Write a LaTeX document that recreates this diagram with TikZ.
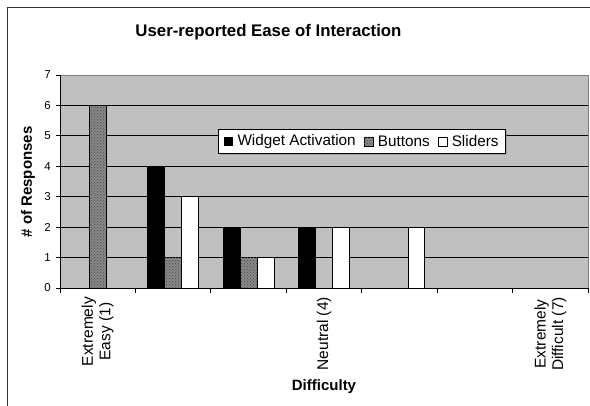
\documentclass[tikz,border=0pt]{standalone}
\usepackage{fontspec}
\setmainfont{Liberation Sans}
\usetikzlibrary{positioning, patterns, shadows}

\definecolor{plotgray}{RGB}{192,192,192}
\definecolor{edgegray}{RGB}{128,128,128}
\definecolor{hatchgray}{RGB}{135,135,135}

\tikzset{
  widget/.style={draw=black, line width=0.7pt, fill=black},
  buttons/.style={draw=black, line width=0.7pt, fill=hatchgray,
    postaction={pattern=crosshatch dots, pattern color=black!70}},
  sliders/.style={draw=black, line width=0.7pt, fill=white},
  grid line/.style={draw=black, line width=0.8pt},
  ticklabel/.style={anchor=east, inner sep=0pt, font=\fontsize{11.5}{13}\selectfont},
  catlabel/.style={rotate=90, anchor=east, inner sep=0pt, align=center,
    font=\fontsize{15.5}{17.5}\selectfont},
  legendbox/.style={draw=black, fill=white, line width=0.8pt,
    minimum width=287pt, minimum height=24pt, inner sep=0pt,
    drop shadow={shadow xshift=1.2pt, shadow yshift=-1.2pt, fill=black!45}},
  legendmark/.style={minimum size=9pt, inner sep=0pt},
  legendtext/.style={inner sep=0pt, font=\fontsize{15.3}{17}\selectfont}
}

\begin{document}
\begin{tikzpicture}[x=1pt, y=1pt]
  \useasboundingbox (0,0) rectangle (590,406);
  \clip (0,0) rectangle (590,406);
  \draw[line width=1.5pt, black!80] (7.5,398.5) rectangle (600,-10);

  \node[font=\bfseries\fontsize{16.8}{20}\selectfont] (title) at (268.5,374) {User-reported Ease of Interaction};

  \begin{scope}[shift={(60,118)}, x=75.43pt, y=30.43pt]
    \fill[plotgray] (0,0) rectangle (7,7);
    \foreach \k in {1,...,6}
      \draw[grid line] (0,\k) -- (7,\k);
    \draw[edgegray, line width=0.9pt] (0,7) -- (7,7) -- (7,0);
    \draw[black, line width=0.9pt] (0,7) -- (0,0) -- (7,0);
    \foreach \k in {0,...,7} {
      \draw[black, line width=0.8pt] (0,\k) -- ++(-4pt,0);
      \node[ticklabel] (y\k) at ([xshift=-9pt]0,\k) {\k};
    }
    \foreach \c in {0,...,7}
      \draw[black, line width=0.8pt] (\c,0) -- ++(0,-5pt);

    \foreach \c/\v in {2/4, 3/2, 4/2}
      \draw[widget] (\c-1+0.1644,0) rectangle ++(0.224,\v);
    \foreach \c/\v in {1/6, 2/1, 3/1}
      \draw[buttons] (\c-1+0.3884,0) rectangle ++(0.224,\v);
    \foreach \c/\v in {2/3, 3/1, 4/2, 5/2}
      \draw[sliders] (\c-1+0.6124,0) rectangle ++(0.224,\v);

    \node[catlabel] (easy) at ([yshift=-9pt]0.5,0) {Extremely\\Easy (1)};
    \node[catlabel] (neutral) at ([yshift=-9pt]3.5,0) {Neutral (4)};
    \node[catlabel] (difficult) at ([yshift=-9pt]6.5,0) {Extremely\\Difficult (7)};
  \end{scope}

  \node[font=\bfseries\fontsize{15}{18}\selectfont, rotate=90] (ylabel) at (28,224) {\# of Responses};
  \node[font=\bfseries\fontsize{15}{18}\selectfont] (xlabel) at (324,19) {Difficulty};

  \node[legendbox] (legend) at (361.8,264.6) {};
  \node[legendmark, fill=black, right=6pt of legend.west] (mw) {};
  \node[legendtext, right=4pt of mw] (tw) {Widget Activation};
  \node[legendmark, buttons, right=8pt of tw] (mb) {};
  \node[legendtext, right=4pt of mb] (tb) {Buttons};
  \node[legendmark, sliders, right=8pt of tb] (ms) {};
  \node[legendtext, right=4pt of ms] (ts) {Sliders};
\end{tikzpicture}
\end{document}
